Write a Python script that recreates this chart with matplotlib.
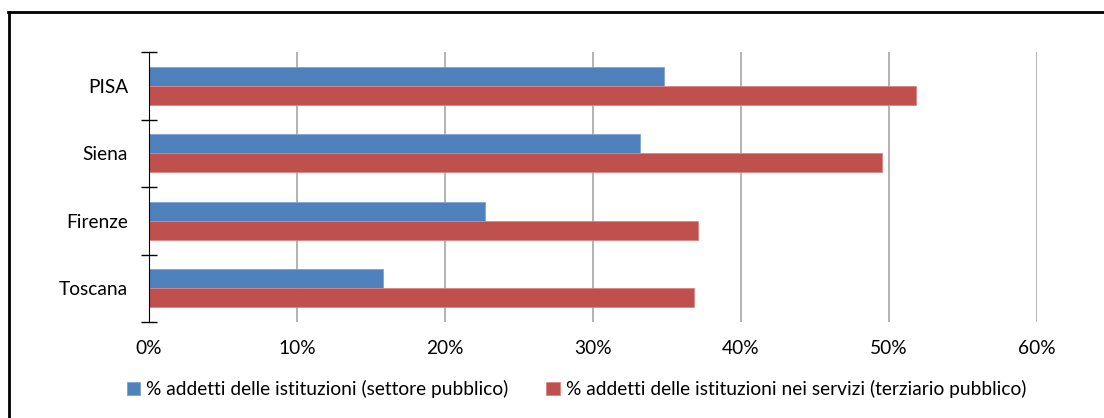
import numpy as np
import matplotlib.pyplot as plt
from matplotlib.lines import Line2D

plt.rcParams['font.family'] = ['Lato', 'DejaVu Sans']

# dati
categorie = ['Toscana', 'Firenze', 'Siena', 'PISA']
settore_pubblico = [15.8, 22.7, 33.2, 34.8]
terziario_pubblico = [36.8, 37.1, 49.5, 51.8]
etichette_legenda = ['% addetti delle istituzioni (settore pubblico)',
                     '% addetti delle istituzioni nei servizi (terziario pubblico)']
tick_x = [0, 10, 20, 30, 40, 50, 60]

blu = '#4F81BD'
rosso = '#C0504D'
fs = 13.8

fig = plt.figure(figsize=(11.04, 4.18), dpi=100)
ax = fig.add_axes([149 / 1104, 1 - 322 / 418, (1037 - 149) / 1104, (322 - 52) / 418])

y = np.arange(len(categorie))
h = 0.28
b1 = ax.barh(y + h / 2, settore_pubblico, height=h, color=blu, edgecolor='#7FA3D3', linewidth=0.6,
             label=etichette_legenda[0], zorder=3)
b2 = ax.barh(y - h / 2, terziario_pubblico, height=h, color=rosso, edgecolor='#D88683', linewidth=0.6,
             label=etichette_legenda[1], zorder=3)

ax.set_xlim(0, 60)
ax.set_ylim(-0.5, len(categorie) - 0.5)
ax.set_xticks(tick_x)
ax.set_xticklabels([f'{t}%' for t in tick_x])
ax.set_yticks(np.arange(-0.5, len(categorie), 1), minor=False)
ax.set_yticklabels([])
ax.set_yticks(y, minor=True)
ax.set_yticklabels(categorie, minor=True)

ax.tick_params(axis='y', which='major', direction='inout', length=12, width=1, color='black')
ax.tick_params(axis='y', which='minor', length=0, pad=15, labelsize=fs)
ax.tick_params(axis='x', length=0, pad=13, labelsize=fs)

ax.grid(axis='x', color='#A6A6A6', linewidth=1.2, zorder=0)
ax.xaxis.grid(True)
for lato in ['top', 'right', 'bottom']:
    ax.spines[lato].set_visible(False)
ax.spines['left'].set_color('black')
ax.spines['left'].set_zorder(4)

fig.legend(handles=[b1, b2], labels=etichette_legenda, loc='center',
           bbox_to_anchor=(0.522, 0.069), ncol=2, frameon=False, fontsize=fs,
           handlelength=0.7, handleheight=0.7, handletextpad=0.3, columnspacing=2.0)

# cornice
fig.add_artist(Line2D([8 / 1104, 1], [1 - 11.5 / 418, 1 - 11.5 / 418], color='black', linewidth=2))
fig.add_artist(Line2D([9 / 1104, 9 / 1104], [0, 1 - 11.5 / 418], color='black', linewidth=2))

fig.savefig('out.png', dpi=100)
